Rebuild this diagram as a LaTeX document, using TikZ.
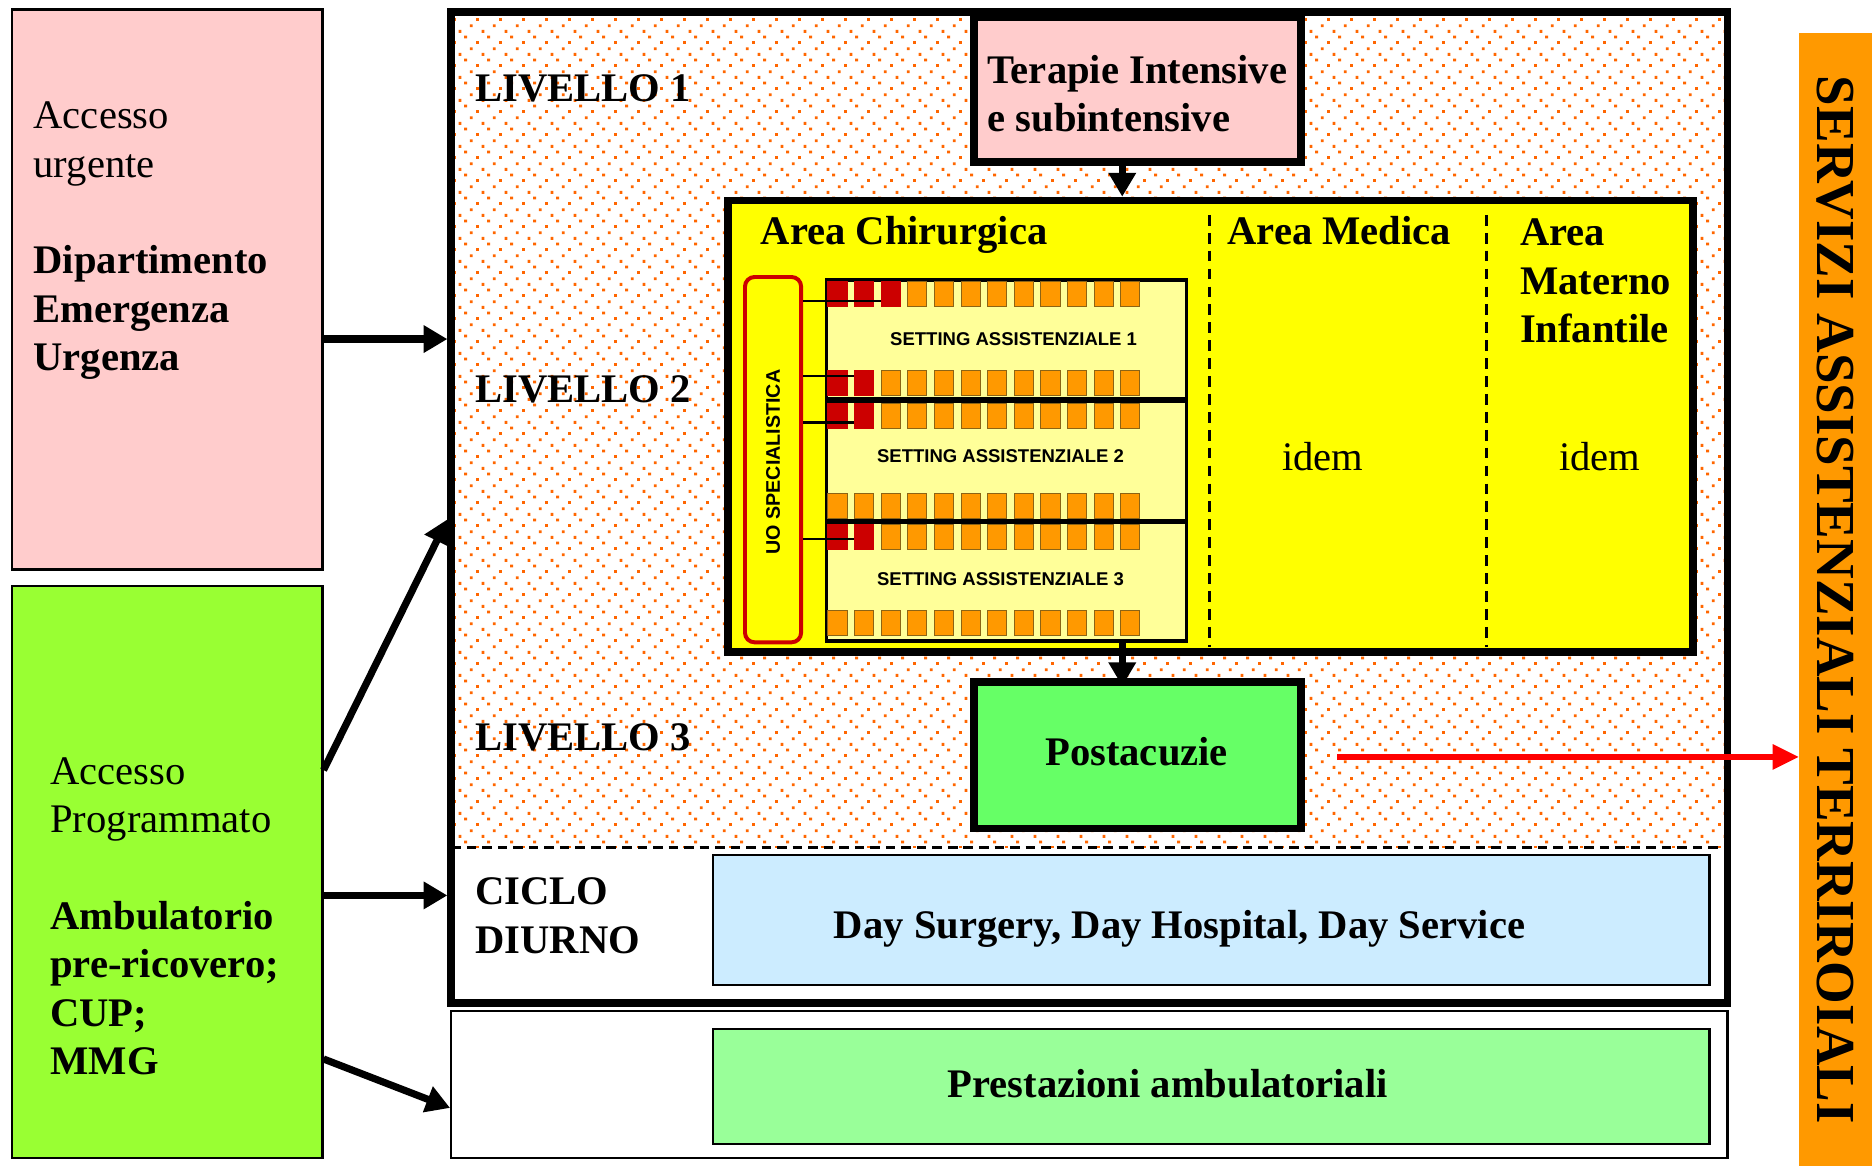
\documentclass[tikz,border=0pt]{standalone}
\usepackage{fontspec}
\setmainfont{Liberation Serif}
\newfontfamily\arialfont{Liberation Sans}
\usetikzlibrary{arrows.meta,patterns,calc}
\definecolor{pinkbox}{HTML}{FFCCCC}
\definecolor{limebox}{HTML}{99FF33}
\definecolor{areayellow}{HTML}{FFFF00}
\definecolor{gridyellow}{HTML}{FFFF99}
\definecolor{sqorange}{HTML}{FF9900}
\definecolor{sqorangeborder}{HTML}{8C6414}
\definecolor{sqred}{HTML}{CC0000}
\definecolor{postgreen}{HTML}{66FF66}
\definecolor{dayblue}{HTML}{CCECFF}
\definecolor{prestgreen}{HTML}{99FF99}
\definecolor{barorange}{HTML}{FF9900}
\definecolor{dotorange}{HTML}{FF6600}
\definecolor{arrowred}{HTML}{FF0000}

\pgfdeclarepatternformonly{odots}{\pgfqpoint{0pt}{0pt}}{\pgfqpoint{19pt}{19pt}}{\pgfqpoint{19pt}{19pt}}{%
  \pgfpathrectangle{\pgfqpoint{0pt}{0pt}}{\pgfqpoint{2.4pt}{2.4pt}}%
  \pgfpathrectangle{\pgfqpoint{9.5pt}{4.75pt}}{\pgfqpoint{2.4pt}{2.4pt}}%
  \pgfpathrectangle{\pgfqpoint{4.75pt}{9.5pt}}{\pgfqpoint{2.4pt}{2.4pt}}%
  \pgfpathrectangle{\pgfqpoint{14.25pt}{14.25pt}}{\pgfqpoint{2.4pt}{2.4pt}}%
  \pgfusepath{fill}}

\newcommand\mylines[1]{\begin{tabular}[t]{@{}l@{}}#1\end{tabular}}

\tikzset{
  box/.style={draw=black, inner sep=0pt, line width=2pt},
  heavybox/.style={draw=black, inner sep=0pt, line width=6.5pt},
  txt/.style={inner sep=0pt, font=\fontsize{34}{40.5}\selectfont},
  btxt/.style={inner sep=0pt, font=\fontsize{34}{40.5}\selectfont\bfseries},
  stxt/.style={inner sep=0pt, font=\arialfont\fontsize{15.5}{18}\selectfont\bfseries},
  bigarrow/.style={line width=6pt, -{Triangle[length=20pt,width=22pt]}},
  redarrow/.style={draw=arrowred, line width=5pt, -{Triangle[length=22pt,width=20pt]}},
  sqbox/.style={minimum width=16pt, minimum height=21pt, inner sep=0pt, line width=0.8pt},
  conn/.style={line width=2pt},
  dashline/.style={line width=2pt, dash pattern=on 9pt off 6pt},
}

\begin{document}
\begin{tikzpicture}[x=1pt,y=-1pt]
\useasboundingbox (0,0) rectangle (1568,977);

% dotted upper region of the main frame
\fill[pattern=odots, pattern color=dotorange] (378,10) rectangle (1447,710);
\draw[line width=2pt, dash pattern=on 8pt off 5pt] (378,710) -- (1447,710);
\node[heavybox, minimum width=1069pt, minimum height=830pt] (frame) at (912.5,425) {};
\node[box, minimum width=1069pt, minimum height=123pt] (lower) at (912.5,908.5) {};

% Terapie intensive
\node[heavybox, fill=pinkbox, minimum width=274pt, minimum height=122pt] (ter) at (953,75) {};

% yellow area box
\node[heavybox, fill=areayellow, minimum width=808pt, minimum height=378pt] (area) at (1014,357) {};
\draw[dashline] (1013,180) -- (1013,542);
\draw[dashline] (1245,180) -- (1245,542);

% setting grid
\node[draw=black, line width=2.8pt, fill=gridyellow, minimum width=302pt, minimum height=302.5pt, inner sep=0pt] (grid) at (843,385.75) {};
\draw[line width=4.5pt] (692,335) -- (994,335);
\draw[line width=4.5pt] (692,437) -- (994,437);

\foreach \r/\ty/\nred in {A/236/3,B/310/2,C/338/2,D/413/0,E/439/2,F/511/0}{
  \foreach \i in {1,...,12}{
    \ifnum\i>\nred\relax\def\sqfill{sqorange}\def\sqdraw{sqorangeborder}\else\def\sqfill{sqred}\def\sqdraw{sqred}\fi
    \node[sqbox, fill=\sqfill, draw=\sqdraw] (sq\r\i) at ({701.5+(\i-1)*22.3},{\ty+10.5}) {};
  }
}

% UO specialistica
\node[draw=sqred, line width=3.3pt, fill=areayellow, rounded corners=8pt, minimum width=47pt, minimum height=306pt, inner sep=0pt] (uo) at (647.5,385) {};
\node[inner sep=0pt, font=\arialfont\fontsize{16.5}{18}\selectfont\bfseries, rotate=90] (uotxt) at ($(uo.center)+(0,2)$) {UO SPECIALISTICA};

\draw[conn] ($(uo.east |- sqA3.west)+(0,5.5)$) -- ($(sqA3.west)+(0,5.5)$);
\draw[conn] ($(uo.east |- sqB2.west)+(0,-5.5)$) -- ($(sqB2.west)+(0,-5.5)$);
\draw[conn] ($(uo.east |- sqC2.west)+(0,5.5)$) -- ($(sqC2.west)+(0,5.5)$);
\draw[conn] ($(uo.east |- sqE2.west)+(0,2)$) -- ($(sqE2.west)+(0,2)$);

% postacuzie, day, prestazioni
\node[heavybox, fill=postgreen, minimum width=274pt, minimum height=123pt] (post) at (953,632.5) {};
\node[box, fill=dayblue, minimum width=835pt, minimum height=109pt] (day) at (1014.5,770.5) {};
\node[box, fill=prestgreen, minimum width=835pt, minimum height=96pt] (prest) at (1014.5,910) {};

% left boxes
\node[box, fill=pinkbox, minimum width=260pt, minimum height=469pt] (urg) at (140,242.5) {};
\node[box, fill=limebox, minimum width=260pt, minimum height=479pt] (prog) at (140,730.5) {};

% right bar
\node[fill=barorange, inner sep=0pt, minimum width=61pt, minimum height=949pt] (bar) at (1537.5,502.5) {};
\node[inner sep=0pt, font=\fontsize{46}{50}\selectfont\bfseries, rotate=-90] (bartxt) at (bar.center) {SERVIZI ASSISTENZIALI TERRIROIALI};

% arrows
\coordinate (u1) at ($(urg.east)+(0,41.5)$);
\draw[bigarrow] (u1) -- (u1 -| frame.west);
\draw[bigarrow] ($(prog.east)+(0,-85.5)$) -- ($(frame.west)+(0,10)$);
\coordinate (p2) at ($(prog.east)+(0,19.5)$);
\draw[bigarrow] (p2) -- (p2 -| frame.west);
\draw[bigarrow] ($(prog.east)+(0,156.5)$) -- ($(lower.west)+(0,19.5)$);
\coordinate (t1) at ($(ter.south)+(-13,0)$);
\draw[bigarrow] (t1) -- (t1 |- area.north);
\coordinate (g1) at ($(grid.south)+(97,0)$);
\draw[bigarrow, shorten >=-7pt] (g1) -- (g1 |- post.north);
\coordinate (r1) at ($(post.east)+(27,1.5)$);
\draw[redarrow] (r1) -- (r1 -| bar.west);

% texts
\node[txt, anchor=base west] (urgtxt) at (28,108) {\mylines{Accesso\\urgente\\ \\\textbf{Dipartimento}\\\textbf{Emergenza}\\\textbf{Urgenza}}};
\node[txt, anchor=base west] (progtxt) at (42,657) {\mylines{Accesso\\Programmato\\ \\\textbf{Ambulatorio}\\\textbf{pre-ricovero;}\\\textbf{CUP;}\\\textbf{MMG}}};
\node[btxt, anchor=base west] (tertxt) at (827,70) {\mylines{Terapie Intensive\\e subintensive}};
\node[btxt, anchor=base west] (liv1) at (398,85) {LIVELLO 1};
\node[btxt, anchor=base west] (liv2) at (398,337) {LIVELLO 2};
\node[btxt, anchor=base west] (liv3) at (398,629) {LIVELLO 3};
\node[btxt, anchor=base west] (ciclo) at (398,758) {\mylines{CICLO\\DIURNO}};
\node[btxt, anchor=base west] (chir) at (637,205) {Area Chirurgica};
\node[btxt, anchor=base west] (med) at (1028,205) {Area Medica};
\node[btxt, anchor=base west] (mat) at (1273,206) {\mylines{Area\\Materno\\Infantile}};
\node[txt, anchor=base] (idem1) at (1108,394) {idem};
\node[txt, anchor=base] (idem2) at (1340,394) {idem};
\node[stxt, anchor=base] (set1) at (849,289) {SETTING ASSISTENZIALE 1};
\node[stxt, anchor=base] (set2) at (838,387) {SETTING ASSISTENZIALE 2};
\node[stxt, anchor=base] (set3) at (838,490) {SETTING ASSISTENZIALE 3};
\node[btxt, anchor=base] (posttxt) at (952,641) {Postacuzie};
\node[btxt, anchor=base] (daytxt) at (988,786) {Day Surgery, Day Hospital, Day Service};
\node[btxt, anchor=base] (presttxt) at (978,919) {Prestazioni ambulatoriali};
\end{tikzpicture}
\end{document}
